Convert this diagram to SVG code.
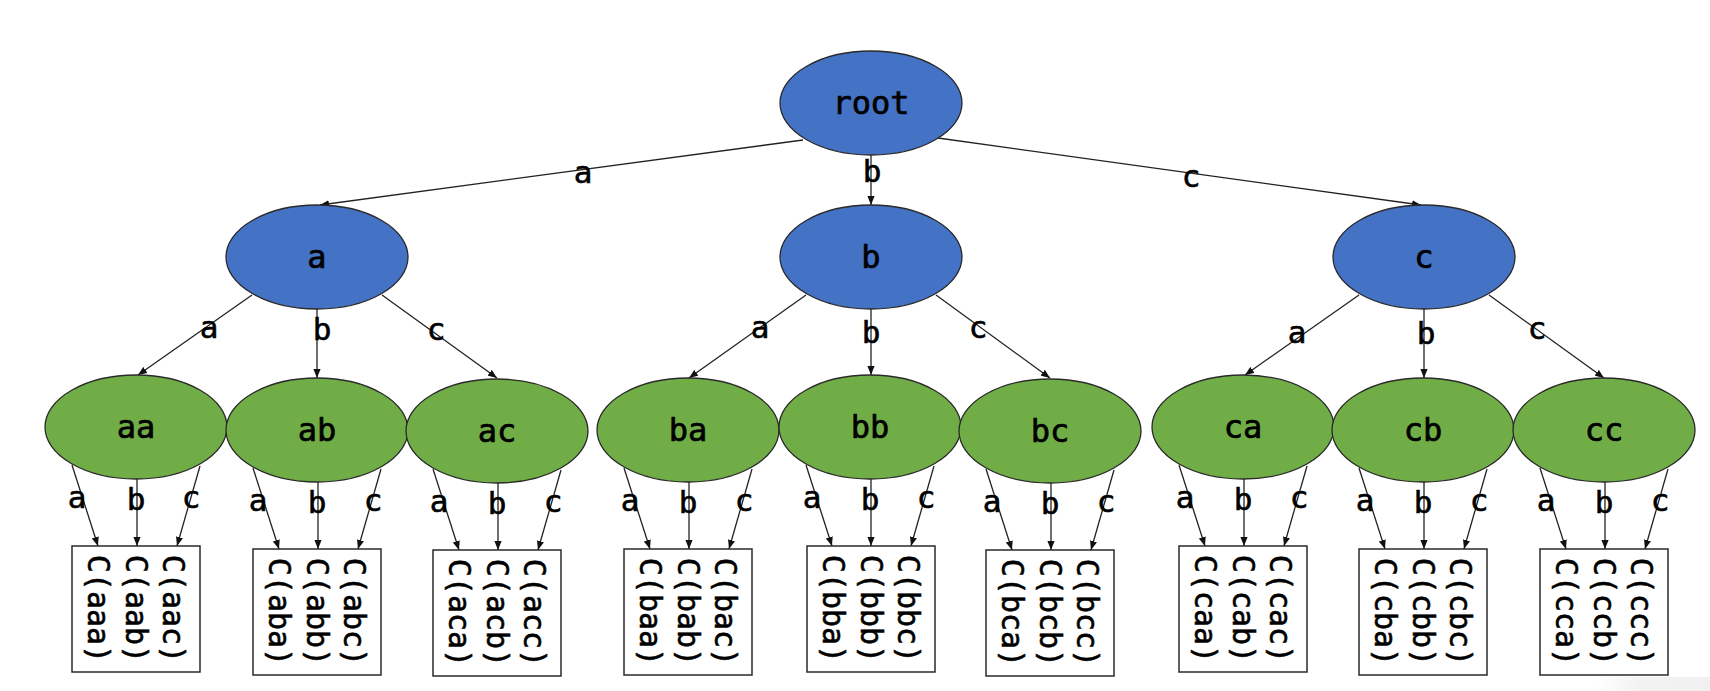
<svg xmlns="http://www.w3.org/2000/svg" width="1710" height="691" viewBox="0 0 1710 691">
  <style>
    .blue { fill: #4472C4; stroke: #2a2a2a; stroke-width: 1.3; }
    .green { fill: #70AD47; stroke: #2a2a2a; stroke-width: 1.3; }
    .box { fill: #ffffff; stroke: #2a2a2a; stroke-width: 1.5; }
    .name { font-family: "DejaVu Sans Mono", "Liberation Mono", monospace; font-size: 32px; fill: #000; stroke: #000; stroke-width: 0.7; text-anchor: middle; }
    .cell { font-family: "DejaVu Sans Mono", "Liberation Mono", monospace; font-size: 30px; fill: #000; stroke: #000; stroke-width: 0.6; text-anchor: middle; dominant-baseline: central; }
    .edge { fill: none; stroke: #222; stroke-width: 1.3; marker-end: url(#arrow); }
    .lbl { font-family: "DejaVu Sans Mono", "Liberation Mono", monospace; font-size: 31px; fill: #000; stroke: #000; stroke-width: 0.6; text-anchor: middle; }
  </style>
  <defs>
    <marker id="arrow" viewBox="0 0 10 8" refX="10" refY="4" markerWidth="9" markerHeight="7.5" markerUnits="userSpaceOnUse" orient="auto">
      <path d="M0,0 L10,4 L0,8 z" fill="#111"/>
    </marker>
    <linearGradient id="shade" x1="0" y1="0" x2="1" y2="0">
      <stop offset="0" stop-color="#f2f2f2" stop-opacity="0"/>
      <stop offset="0.35" stop-color="#f2f2f2" stop-opacity="1"/>
      <stop offset="1" stop-color="#f0f0f0" stop-opacity="1"/>
    </linearGradient>
  </defs>

  <rect width="1710" height="691" fill="#ffffff"/>
  <rect x="1596" y="677" width="130" height="30" rx="10" fill="url(#shade)"/>

  <!-- connectors -->
  <g id="connectors">
    <!-- root to first level -->
    <line class="edge" x1="803" y1="140" x2="320" y2="205"/>
    <line class="edge" x1="871" y1="155" x2="871" y2="205"/>
    <line class="edge" x1="938" y1="138" x2="1421" y2="205"/>
    <text class="lbl" x="583" y="183">a</text>
    <text class="lbl" x="872" y="182">b</text>
    <text class="lbl" x="1191" y="187">c</text>

    <!-- a to second level -->
    <line class="edge" x1="252" y1="295" x2="138" y2="375"/>
    <line class="edge" x1="317" y1="309" x2="317" y2="378"/>
    <line class="edge" x1="382" y1="295" x2="497" y2="378"/>
    <text class="lbl" x="209" y="338">a</text>
    <text class="lbl" x="322" y="340">b</text>
    <text class="lbl" x="436" y="340">c</text>

    <!-- b to second level -->
    <line class="edge" x1="806" y1="295" x2="689" y2="378"/>
    <line class="edge" x1="871" y1="309" x2="871" y2="375"/>
    <line class="edge" x1="936" y1="295" x2="1050" y2="378"/>
    <text class="lbl" x="760" y="338">a</text>
    <text class="lbl" x="871" y="343">b</text>
    <text class="lbl" x="978" y="338">c</text>

    <!-- c to second level -->
    <line class="edge" x1="1359" y1="295" x2="1245" y2="375"/>
    <line class="edge" x1="1424" y1="309" x2="1424" y2="378"/>
    <line class="edge" x1="1489" y1="295" x2="1604" y2="378"/>
    <text class="lbl" x="1297" y="343">a</text>
    <text class="lbl" x="1426" y="344">b</text>
    <text class="lbl" x="1537" y="339">c</text>

    <!-- second level to leaves: aa -->
    <line class="edge" x1="72" y1="465" x2="98" y2="546"/>
    <line class="edge" x1="137" y1="479" x2="137" y2="546"/>
    <line class="edge" x1="200" y1="466" x2="177" y2="546"/>
    <text class="lbl" x="77" y="508">a</text>
    <text class="lbl" x="136" y="510">b</text>
    <text class="lbl" x="191" y="508">c</text>
    <!-- ab -->
    <line class="edge" x1="253" y1="468" x2="279" y2="549"/>
    <line class="edge" x1="318" y1="482" x2="318" y2="549"/>
    <line class="edge" x1="381" y1="469" x2="358" y2="549"/>
    <text class="lbl" x="258" y="511">a</text>
    <text class="lbl" x="317" y="513">b</text>
    <text class="lbl" x="373" y="511">c</text>
    <!-- ac -->
    <line class="edge" x1="433" y1="469" x2="459" y2="550"/>
    <line class="edge" x1="498" y1="483" x2="498" y2="550"/>
    <line class="edge" x1="561" y1="470" x2="538" y2="550"/>
    <text class="lbl" x="439" y="512">a</text>
    <text class="lbl" x="497" y="514">b</text>
    <text class="lbl" x="553" y="512">c</text>
    <!-- ba -->
    <line class="edge" x1="624" y1="468" x2="650" y2="549"/>
    <line class="edge" x1="689" y1="482" x2="689" y2="549"/>
    <line class="edge" x1="752" y1="469" x2="729" y2="549"/>
    <text class="lbl" x="630" y="511">a</text>
    <text class="lbl" x="688" y="513">b</text>
    <text class="lbl" x="744" y="511">c</text>
    <!-- bb -->
    <line class="edge" x1="806" y1="465" x2="832" y2="546"/>
    <line class="edge" x1="871" y1="479" x2="871" y2="546"/>
    <line class="edge" x1="934" y1="466" x2="911" y2="546"/>
    <text class="lbl" x="812" y="508">a</text>
    <text class="lbl" x="870" y="510">b</text>
    <text class="lbl" x="926" y="508">c</text>
    <!-- bc -->
    <line class="edge" x1="986" y1="469" x2="1012" y2="550"/>
    <line class="edge" x1="1051" y1="483" x2="1051" y2="550"/>
    <line class="edge" x1="1114" y1="470" x2="1091" y2="550"/>
    <text class="lbl" x="992" y="512">a</text>
    <text class="lbl" x="1050" y="514">b</text>
    <text class="lbl" x="1106" y="512">c</text>
    <!-- ca -->
    <line class="edge" x1="1179" y1="465" x2="1205" y2="546"/>
    <line class="edge" x1="1244" y1="479" x2="1244" y2="546"/>
    <line class="edge" x1="1307" y1="466" x2="1284" y2="546"/>
    <text class="lbl" x="1185" y="508">a</text>
    <text class="lbl" x="1243" y="510">b</text>
    <text class="lbl" x="1299" y="508">c</text>
    <!-- cb -->
    <line class="edge" x1="1359" y1="468" x2="1385" y2="549"/>
    <line class="edge" x1="1424" y1="482" x2="1424" y2="549"/>
    <line class="edge" x1="1487" y1="469" x2="1464" y2="549"/>
    <text class="lbl" x="1365" y="511">a</text>
    <text class="lbl" x="1423" y="513">b</text>
    <text class="lbl" x="1479" y="511">c</text>
    <!-- cc -->
    <line class="edge" x1="1540" y1="468" x2="1566" y2="549"/>
    <line class="edge" x1="1605" y1="482" x2="1605" y2="549"/>
    <line class="edge" x1="1668" y1="469" x2="1645" y2="549"/>
    <text class="lbl" x="1546" y="511">a</text>
    <text class="lbl" x="1604" y="513">b</text>
    <text class="lbl" x="1660" y="511">c</text>
  </g>

  <!-- root and first level -->
  <g id="node-root"><ellipse class="blue" cx="871" cy="103" rx="91" ry="52"/><text class="name" x="871" y="114">root</text></g>
  <g id="node-a"><ellipse class="blue" cx="317" cy="257" rx="91" ry="52"/><text class="name" x="317" y="268">a</text></g>
  <g id="node-b"><ellipse class="blue" cx="871" cy="257" rx="91" ry="52"/><text class="name" x="871" y="268">b</text></g>
  <g id="node-c"><ellipse class="blue" cx="1424" cy="257" rx="91" ry="52"/><text class="name" x="1424" y="268">c</text></g>

  <!-- second level -->
  <g id="node-aa"><ellipse class="green" cx="136" cy="427" rx="91" ry="52"/><text class="name" x="136" y="438">aa</text></g>
  <g id="node-ab"><ellipse class="green" cx="317" cy="430" rx="91" ry="52"/><text class="name" x="317" y="441">ab</text></g>
  <g id="node-ac"><ellipse class="green" cx="497" cy="431" rx="91" ry="52"/><text class="name" x="497" y="442">ac</text></g>
  <g id="node-ba"><ellipse class="green" cx="688" cy="430" rx="91" ry="52"/><text class="name" x="688" y="441">ba</text></g>
  <g id="node-bb"><ellipse class="green" cx="870" cy="427" rx="91" ry="52"/><text class="name" x="870" y="438">bb</text></g>
  <g id="node-bc"><ellipse class="green" cx="1050" cy="431" rx="91" ry="52"/><text class="name" x="1050" y="442">bc</text></g>
  <g id="node-ca"><ellipse class="green" cx="1243" cy="427" rx="91" ry="52"/><text class="name" x="1243" y="438">ca</text></g>
  <g id="node-cb"><ellipse class="green" cx="1423" cy="430" rx="91" ry="52"/><text class="name" x="1423" y="441">cb</text></g>
  <g id="node-cc"><ellipse class="green" cx="1604" cy="430" rx="91" ry="52"/><text class="name" x="1604" y="441">cc</text></g>

  <!-- leaf boxes: vertical text columns -->
  <g id="leaf-aa"><rect class="box" x="72" y="546" width="128" height="126"/>
    <text class="cell" transform="rotate(90 98 609)" x="98" y="609">C(aaa)</text>
    <text class="cell" transform="rotate(90 136 609)" x="136" y="609">C(aab)</text>
    <text class="cell" transform="rotate(90 173 609)" x="173" y="609">C(aac)</text></g>
  <g id="leaf-ab"><rect class="box" x="253" y="549" width="128" height="126"/>
    <text class="cell" transform="rotate(90 279 612)" x="279" y="612">C(aba)</text>
    <text class="cell" transform="rotate(90 317 612)" x="317" y="612">C(abb)</text>
    <text class="cell" transform="rotate(90 354 612)" x="354" y="612">C(abc)</text></g>
  <g id="leaf-ac"><rect class="box" x="433" y="550" width="128" height="126"/>
    <text class="cell" transform="rotate(90 459 613)" x="459" y="613">C(aca)</text>
    <text class="cell" transform="rotate(90 497 613)" x="497" y="613">C(acb)</text>
    <text class="cell" transform="rotate(90 534 613)" x="534" y="613">C(acc)</text></g>
  <g id="leaf-ba"><rect class="box" x="624" y="549" width="128" height="126"/>
    <text class="cell" transform="rotate(90 650 612)" x="650" y="612">C(baa)</text>
    <text class="cell" transform="rotate(90 688 612)" x="688" y="612">C(bab)</text>
    <text class="cell" transform="rotate(90 725 612)" x="725" y="612">C(bac)</text></g>
  <g id="leaf-bb"><rect class="box" x="807" y="546" width="128" height="126"/>
    <text class="cell" transform="rotate(90 833 609)" x="833" y="609">C(bba)</text>
    <text class="cell" transform="rotate(90 871 609)" x="871" y="609">C(bbb)</text>
    <text class="cell" transform="rotate(90 908 609)" x="908" y="609">C(bbc)</text></g>
  <g id="leaf-bc"><rect class="box" x="986" y="550" width="128" height="126"/>
    <text class="cell" transform="rotate(90 1012 613)" x="1012" y="613">C(bca)</text>
    <text class="cell" transform="rotate(90 1050 613)" x="1050" y="613">C(bcb)</text>
    <text class="cell" transform="rotate(90 1087 613)" x="1087" y="613">C(bcc)</text></g>
  <g id="leaf-ca"><rect class="box" x="1179" y="546" width="128" height="126"/>
    <text class="cell" transform="rotate(90 1205 609)" x="1205" y="609">C(caa)</text>
    <text class="cell" transform="rotate(90 1243 609)" x="1243" y="609">C(cab)</text>
    <text class="cell" transform="rotate(90 1280 609)" x="1280" y="609">C(cac)</text></g>
  <g id="leaf-cb"><rect class="box" x="1359" y="549" width="128" height="126"/>
    <text class="cell" transform="rotate(90 1385 612)" x="1385" y="612">C(cba)</text>
    <text class="cell" transform="rotate(90 1423 612)" x="1423" y="612">C(cbb)</text>
    <text class="cell" transform="rotate(90 1460 612)" x="1460" y="612">C(cbc)</text></g>
  <g id="leaf-cc"><rect class="box" x="1540" y="549" width="128" height="126"/>
    <text class="cell" transform="rotate(90 1566 612)" x="1566" y="612">C(cca)</text>
    <text class="cell" transform="rotate(90 1604 612)" x="1604" y="612">C(ccb)</text>
    <text class="cell" transform="rotate(90 1641 612)" x="1641" y="612">C(ccc)</text></g>
</svg>
